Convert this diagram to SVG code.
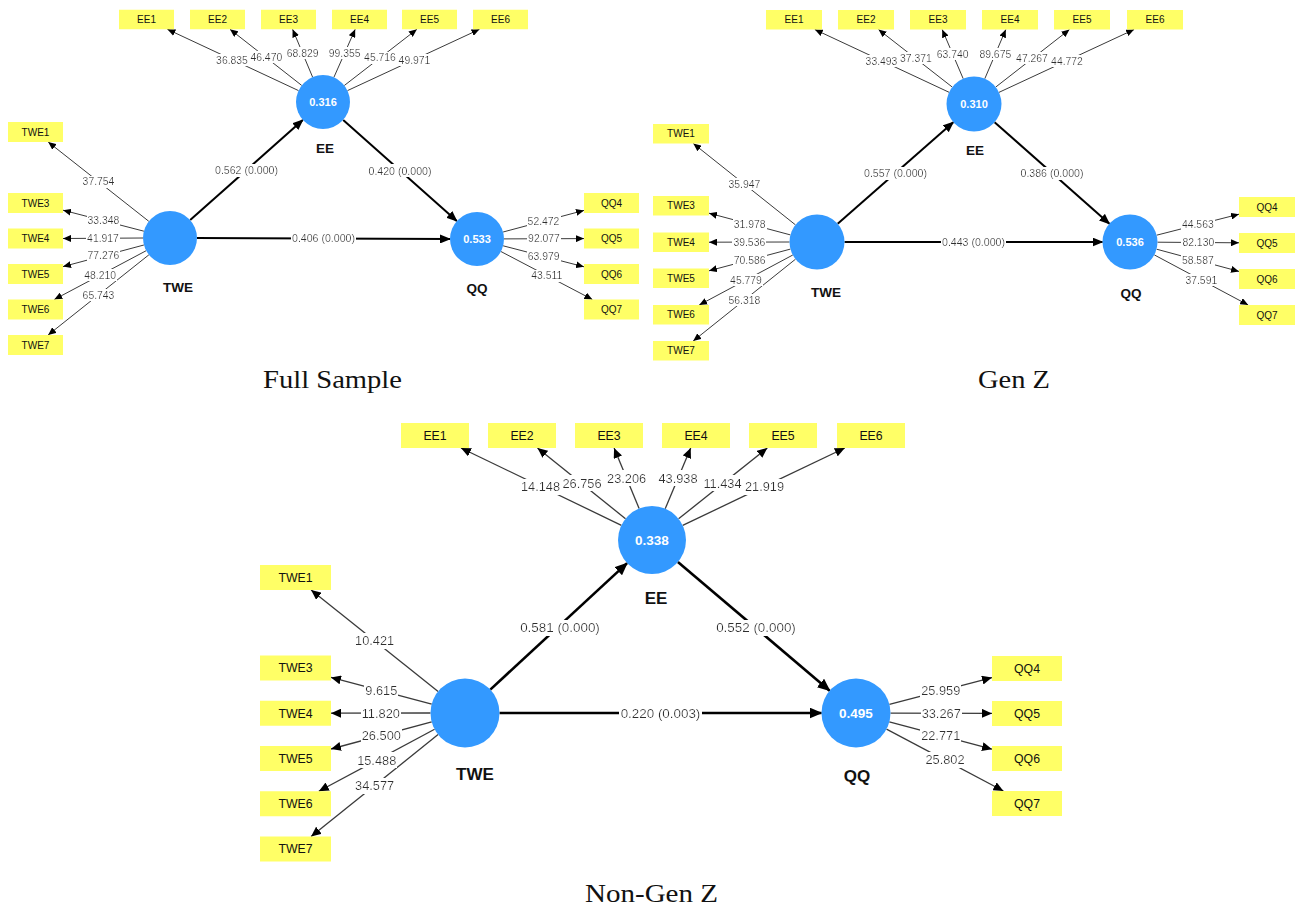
<svg xmlns="http://www.w3.org/2000/svg" width="1299" height="910" viewBox="0 0 1299 910">
<style>
.lv{fill:#3399FF}
.ind{fill:#FFFF66}
.o1{stroke:#3a3a3a;stroke-width:1;fill:none;marker-end:url(#a1)}
.p1{stroke:#000;stroke-width:2;fill:none;marker-end:url(#a2)}
.o2{stroke:#3a3a3a;stroke-width:1.3;fill:none;marker-end:url(#a3)}
.p2{stroke:#000;stroke-width:2.6;fill:none;marker-end:url(#a4)}
text{font-family:"Liberation Sans",Arial,sans-serif;text-anchor:middle}
.t1{font-size:10.4px;fill:#2e2e2e;filter:url(#bg)}
.t2{font-size:12.8px;fill:#2e2e2e;filter:url(#bg)}
.pt1{font-size:10.6px;fill:#2e2e2e;filter:url(#bg)}
.pt2{font-size:13.4px;fill:#2e2e2e;filter:url(#bg)}
.bx1{font-size:10px;fill:#111}
.bx2{font-size:12.3px;fill:#111}
.v1{font-size:11px;font-weight:bold;fill:#fff}
.v2{font-size:13.5px;font-weight:bold;fill:#fff}
.n1{font-size:13.5px;font-weight:bold;fill:#111}
.n2{font-size:17px;font-weight:bold;fill:#111}
.title{font-family:"Liberation Serif","Times New Roman",serif;font-size:25px;fill:#111}
</style>
<defs>
<filter id="bg" x="-0.015" y="0" width="1.03" height="1">
<feFlood flood-color="#ffffff"/>
<feComposite in="SourceGraphic"/>
</filter>
<marker id="a1" viewBox="0 0 8 7" refX="8" refY="3.5" markerWidth="8" markerHeight="7" markerUnits="userSpaceOnUse" orient="auto"><path d="M0,0 L8,3.5 L0,7 z" fill="#000"/></marker>
<marker id="a2" viewBox="0 0 11 9" refX="10" refY="4.5" markerWidth="11" markerHeight="9" markerUnits="userSpaceOnUse" orient="auto"><path d="M0,0 L11,4.5 L0,9 z" fill="#000"/></marker>
<marker id="a3" viewBox="0 0 10 9" refX="10" refY="4.5" markerWidth="10" markerHeight="9" markerUnits="userSpaceOnUse" orient="auto"><path d="M0,0 L10,4.5 L0,9 z" fill="#000"/></marker>
<marker id="a4" viewBox="0 0 13 11" refX="12" refY="5.5" markerWidth="13" markerHeight="11" markerUnits="userSpaceOnUse" orient="auto"><path d="M0,0 L13,5.5 L0,11 z" fill="#000"/></marker>
</defs>
<rect width="1299" height="910" fill="#fff"/>

<!-- ================= Full Sample ================= -->
<g id="fs-connectors">
<line class="o1" x1="298.5" y1="90.6" x2="167.4" y2="29.3"/>
<line class="o1" x1="301.7" y1="85.4" x2="230" y2="29.3"/>
<line class="o1" x1="312.6" y1="77.1" x2="292.6" y2="29.3"/>
<line class="o1" x1="333.9" y1="77.3" x2="355.2" y2="29.3"/>
<line class="o1" x1="344.3" y1="85.5" x2="416.9" y2="29.3"/>
<line class="o1" x1="347.5" y1="90.6" x2="479.5" y2="29.3"/>
<line class="o1" x1="148.8" y1="221.3" x2="48.2" y2="142"/>
<line class="o1" x1="143.9" y1="231.2" x2="63" y2="210.2"/>
<line class="o1" x1="143" y1="238" x2="63" y2="238.5"/>
<line class="o1" x1="143.9" y1="245" x2="63" y2="266.6"/>
<line class="o1" x1="146.2" y1="250.7" x2="54.3" y2="299.5"/>
<line class="o1" x1="148.9" y1="254.8" x2="48.1" y2="335"/>
<line class="o1" x1="503.1" y1="232" x2="584" y2="210.4"/>
<line class="o1" x1="504" y1="238.9" x2="584" y2="238.6"/>
<line class="o1" x1="503.1" y1="245.8" x2="584" y2="266.8"/>
<line class="o1" x1="500.9" y1="251.5" x2="592.4" y2="299.5"/>
<line class="p1" x1="190.2" y1="220.1" x2="302.8" y2="119.9"/>
<line class="p1" x1="197" y1="238" x2="450" y2="239"/>
<line class="p1" x1="343.2" y1="119.9" x2="456.8" y2="221.1"/>
<text class="t1" x="232" y="60" dy=".35em">36.835</text>
<text class="t1" x="266.3" y="57.3" dy=".35em">46.470</text>
<text class="t1" x="302.6" y="53.2" dy=".35em">68.829</text>
<text class="t1" x="344.6" y="53.3" dy=".35em">99.355</text>
<text class="t1" x="380" y="57.4" dy=".35em">45.716</text>
<text class="t1" x="414.5" y="59.9" dy=".35em">49.971</text>
<text class="t1" x="98.5" y="181.7" dy=".35em">37.754</text>
<text class="t1" x="103.4" y="220.7" dy=".35em">33.348</text>
<text class="t1" x="103" y="238.2" dy=".35em">41.917</text>
<text class="t1" x="103.4" y="255.8" dy=".35em">77.276</text>
<text class="t1" x="100.2" y="275.1" dy=".35em">48.210</text>
<text class="t1" x="98.5" y="294.9" dy=".35em">65.743</text>
<text class="t1" x="543.5" y="221.2" dy=".35em">52.472</text>
<text class="t1" x="544" y="238.8" dy=".35em">92.077</text>
<text class="t1" x="543.6" y="256.3" dy=".35em">63.979</text>
<text class="t1" x="546.7" y="275.5" dy=".35em">43.511</text>
<text class="pt1" x="246.5" y="170.5" dy=".35em">0.562 (0.000)</text>
<text class="pt1" x="323.5" y="238.5" dy=".35em">0.406 (0.000)</text>
<text class="pt1" x="400" y="171" dy=".35em">0.420 (0.000)</text>
</g>
<g id="fs-EE"><circle class="lv" cx="323" cy="102" r="27"/><text class="v1" x="323" y="102" dy=".36em">0.316</text><text class="n1" x="325" y="148" dy=".36em">EE</text></g>
<g id="fs-TWE"><circle class="lv" cx="170" cy="238" r="27"/><text class="n1" x="178" y="287" dy=".36em">TWE</text></g>
<g id="fs-QQ"><circle class="lv" cx="477" cy="239" r="27"/><text class="v1" x="477" y="239" dy=".36em">0.533</text><text class="n1" x="477" y="288" dy=".36em">QQ</text></g>
<g id="fs-EE1"><rect class="ind" x="119" y="9.75" width="55" height="19.5"/><text class="bx1" x="146.5" y="19.5" dy=".35em">EE1</text></g>
<g id="fs-EE2"><rect class="ind" x="190" y="9.75" width="55" height="19.5"/><text class="bx1" x="217.5" y="19.5" dy=".35em">EE2</text></g>
<g id="fs-EE3"><rect class="ind" x="261" y="9.75" width="55" height="19.5"/><text class="bx1" x="288.5" y="19.5" dy=".35em">EE3</text></g>
<g id="fs-EE4"><rect class="ind" x="332" y="9.75" width="55" height="19.5"/><text class="bx1" x="359.5" y="19.5" dy=".35em">EE4</text></g>
<g id="fs-EE5"><rect class="ind" x="402" y="9.75" width="55" height="19.5"/><text class="bx1" x="429.5" y="19.5" dy=".35em">EE5</text></g>
<g id="fs-EE6"><rect class="ind" x="473" y="9.75" width="55" height="19.5"/><text class="bx1" x="500.5" y="19.5" dy=".35em">EE6</text></g>
<g id="fs-TWE1"><rect class="ind" x="8" y="122" width="55" height="20"/><text class="bx1" x="35.5" y="132" dy=".35em">TWE1</text></g>
<g id="fs-TWE3"><rect class="ind" x="8" y="193" width="55" height="20"/><text class="bx1" x="35.5" y="203" dy=".35em">TWE3</text></g>
<g id="fs-TWE4"><rect class="ind" x="8" y="228.5" width="55" height="20"/><text class="bx1" x="35.5" y="238.5" dy=".35em">TWE4</text></g>
<g id="fs-TWE5"><rect class="ind" x="8" y="264" width="55" height="20"/><text class="bx1" x="35.5" y="274" dy=".35em">TWE5</text></g>
<g id="fs-TWE6"><rect class="ind" x="8" y="299.5" width="55" height="20"/><text class="bx1" x="35.5" y="309.5" dy=".35em">TWE6</text></g>
<g id="fs-TWE7"><rect class="ind" x="8" y="335" width="55" height="20"/><text class="bx1" x="35.5" y="345" dy=".35em">TWE7</text></g>
<g id="fs-QQ4"><rect class="ind" x="584" y="193" width="55" height="20"/><text class="bx1" x="611.5" y="203" dy=".35em">QQ4</text></g>
<g id="fs-QQ5"><rect class="ind" x="584" y="228.5" width="55" height="20"/><text class="bx1" x="611.5" y="238.5" dy=".35em">QQ5</text></g>
<g id="fs-QQ6"><rect class="ind" x="584" y="264" width="55" height="20"/><text class="bx1" x="611.5" y="274" dy=".35em">QQ6</text></g>
<g id="fs-QQ7"><rect class="ind" x="584" y="299.5" width="55" height="20"/><text class="bx1" x="611.5" y="309.5" dy=".35em">QQ7</text></g>
<text class="title" x="332.5" y="388" textLength="139" lengthAdjust="spacingAndGlyphs">Full Sample</text>

<!-- ================= Gen Z ================= -->
<g id="gz-connectors">
<line class="o1" x1="949.1" y1="92.3" x2="814.8" y2="29.5"/>
<line class="o1" x1="952.3" y1="87.1" x2="878.5" y2="29.5"/>
<line class="o1" x1="963.2" y1="78.7" x2="942.2" y2="29.5"/>
<line class="o1" x1="984.8" y1="78.7" x2="1005.8" y2="29.5"/>
<line class="o1" x1="995.7" y1="87.1" x2="1069.5" y2="29.5"/>
<line class="o1" x1="998.9" y1="92.4" x2="1134.1" y2="29.5"/>
<line class="o1" x1="795.5" y1="224.9" x2="693.3" y2="143.5"/>
<line class="o1" x1="790.4" y1="234.9" x2="709" y2="213.2"/>
<line class="o1" x1="789.5" y1="242" x2="709" y2="242.2"/>
<line class="o1" x1="790.4" y1="249.1" x2="709" y2="270.8"/>
<line class="o1" x1="792.8" y1="255" x2="699.2" y2="305"/>
<line class="o1" x1="795.5" y1="259.2" x2="693.2" y2="341"/>
<line class="o1" x1="1156.6" y1="235.2" x2="1239" y2="214.2"/>
<line class="o1" x1="1157.5" y1="242.2" x2="1239" y2="242.8"/>
<line class="o1" x1="1156.6" y1="249.2" x2="1239" y2="271.4"/>
<line class="o1" x1="1154.3" y1="254.9" x2="1248.2" y2="305"/>
<line class="p1" x1="837.7" y1="223.8" x2="953.3" y2="122.2"/>
<line class="p1" x1="844.5" y1="242" x2="1102.5" y2="242"/>
<line class="p1" x1="994.6" y1="122.2" x2="1109.4" y2="223.8"/>
<text class="t1" x="881.5" y="60.9" dy=".35em">33.493</text>
<text class="t1" x="915.9" y="58.3" dy=".35em">37.371</text>
<text class="t1" x="952.7" y="54.1" dy=".35em">63.740</text>
<text class="t1" x="995.3" y="54.1" dy=".35em">89.675</text>
<text class="t1" x="1032" y="58.3" dy=".35em">47.267</text>
<text class="t1" x="1067" y="61" dy=".35em">44.772</text>
<text class="t1" x="744.4" y="184.2" dy=".35em">35.947</text>
<text class="t1" x="749.7" y="224.1" dy=".35em">31.978</text>
<text class="t1" x="749.3" y="242.1" dy=".35em">39.536</text>
<text class="t1" x="749.7" y="260" dy=".35em">70.586</text>
<text class="t1" x="746" y="280" dy=".35em">45.779</text>
<text class="t1" x="744.4" y="300.1" dy=".35em">56.318</text>
<text class="t1" x="1197.8" y="224.7" dy=".35em">44.563</text>
<text class="t1" x="1198.3" y="242.5" dy=".35em">82.130</text>
<text class="t1" x="1197.8" y="260.3" dy=".35em">58.587</text>
<text class="t1" x="1201.3" y="280" dy=".35em">37.591</text>
<text class="pt1" x="895.5" y="173.5" dy=".35em">0.557 (0.000)</text>
<text class="pt1" x="973.5" y="242" dy=".35em">0.443 (0.000)</text>
<text class="pt1" x="1052" y="173.5" dy=".35em">0.386 (0.000)</text>
</g>
<g id="gz-EE"><circle class="lv" cx="974" cy="104" r="27.5"/><text class="v1" x="974" y="104" dy=".36em">0.310</text><text class="n1" x="975" y="150" dy=".36em">EE</text></g>
<g id="gz-TWE"><circle class="lv" cx="817" cy="242" r="27.5"/><text class="n1" x="826" y="292" dy=".36em">TWE</text></g>
<g id="gz-QQ"><circle class="lv" cx="1130" cy="242" r="27.5"/><text class="v1" x="1130" y="242" dy=".36em">0.536</text><text class="n1" x="1131" y="293" dy=".36em">QQ</text></g>
<g id="gz-EE1"><rect class="ind" x="766" y="10" width="56" height="19.5"/><text class="bx1" x="794" y="19.75" dy=".35em">EE1</text></g>
<g id="gz-EE2"><rect class="ind" x="838" y="10" width="56" height="19.5"/><text class="bx1" x="866" y="19.75" dy=".35em">EE2</text></g>
<g id="gz-EE3"><rect class="ind" x="910" y="10" width="56" height="19.5"/><text class="bx1" x="938" y="19.75" dy=".35em">EE3</text></g>
<g id="gz-EE4"><rect class="ind" x="982" y="10" width="56" height="19.5"/><text class="bx1" x="1010" y="19.75" dy=".35em">EE4</text></g>
<g id="gz-EE5"><rect class="ind" x="1054" y="10" width="56" height="19.5"/><text class="bx1" x="1082" y="19.75" dy=".35em">EE5</text></g>
<g id="gz-EE6"><rect class="ind" x="1127" y="10" width="56" height="19.5"/><text class="bx1" x="1155" y="19.75" dy=".35em">EE6</text></g>
<g id="gz-TWE1"><rect class="ind" x="653" y="124" width="56" height="19.5"/><text class="bx1" x="681" y="133.75" dy=".35em">TWE1</text></g>
<g id="gz-TWE3"><rect class="ind" x="653" y="196" width="56" height="19.5"/><text class="bx1" x="681" y="205.75" dy=".35em">TWE3</text></g>
<g id="gz-TWE4"><rect class="ind" x="653" y="232.5" width="56" height="19.5"/><text class="bx1" x="681" y="242.25" dy=".35em">TWE4</text></g>
<g id="gz-TWE5"><rect class="ind" x="653" y="268.5" width="56" height="19.5"/><text class="bx1" x="681" y="278.25" dy=".35em">TWE5</text></g>
<g id="gz-TWE6"><rect class="ind" x="653" y="305" width="56" height="19.5"/><text class="bx1" x="681" y="314.75" dy=".35em">TWE6</text></g>
<g id="gz-TWE7"><rect class="ind" x="653" y="341" width="56" height="19.5"/><text class="bx1" x="681" y="350.75" dy=".35em">TWE7</text></g>
<g id="gz-QQ4"><rect class="ind" x="1239" y="197" width="56" height="20"/><text class="bx1" x="1267" y="207" dy=".35em">QQ4</text></g>
<g id="gz-QQ5"><rect class="ind" x="1239" y="233" width="56" height="20"/><text class="bx1" x="1267" y="243" dy=".35em">QQ5</text></g>
<g id="gz-QQ6"><rect class="ind" x="1239" y="269" width="56" height="20"/><text class="bx1" x="1267" y="279" dy=".35em">QQ6</text></g>
<g id="gz-QQ7"><rect class="ind" x="1239" y="305" width="56" height="20"/><text class="bx1" x="1267" y="315" dy=".35em">QQ7</text></g>
<text class="title" x="1014" y="388" textLength="72" lengthAdjust="spacingAndGlyphs">Gen Z</text>

<!-- ================= Non-Gen Z ================= -->
<g id="ng-connectors">
<line class="o2" x1="621.4" y1="525.3" x2="461" y2="448"/>
<line class="o2" x1="625.5" y1="518.7" x2="537.5" y2="448"/>
<line class="o2" x1="639.1" y1="508.6" x2="614.1" y2="448"/>
<line class="o2" x1="665.2" y1="508.7" x2="690.7" y2="448"/>
<line class="o2" x1="678.6" y1="518.8" x2="767.3" y2="448"/>
<line class="o2" x1="682.7" y1="525.4" x2="844.8" y2="448"/>
<line class="o2" x1="438.1" y1="691.5" x2="311.1" y2="590"/>
<line class="o2" x1="431.7" y1="704.1" x2="331" y2="677.4"/>
<line class="o2" x1="430.5" y1="713" x2="331" y2="713.2"/>
<line class="o2" x1="431.7" y1="721.9" x2="331" y2="749"/>
<line class="o2" x1="434.6" y1="729.3" x2="318.8" y2="791.25"/>
<line class="o2" x1="438.1" y1="734.6" x2="311.1" y2="836.5"/>
<line class="o2" x1="889.4" y1="704.3" x2="992" y2="677.6"/>
<line class="o2" x1="890.5" y1="713.1" x2="992" y2="713.4"/>
<line class="o2" x1="889.3" y1="721.9" x2="992" y2="749.2"/>
<line class="o2" x1="886.5" y1="729.1" x2="1003.4" y2="791"/>
<line class="p2" x1="490.3" y1="689.6" x2="627.1" y2="563.1"/>
<line class="p2" x1="499.5" y1="713" x2="821.5" y2="713"/>
<line class="p2" x1="677.9" y1="562" x2="829.7" y2="690.7"/>
<text class="t2" x="540.5" y="486.7" dy=".35em">14.148</text>
<text class="t2" x="582" y="483.4" dy=".35em">26.756</text>
<text class="t2" x="626.6" y="478.3" dy=".35em">23.206</text>
<text class="t2" x="678" y="478.4" dy=".35em">43.938</text>
<text class="t2" x="722.5" y="483.4" dy=".35em">11.434</text>
<text class="t2" x="764.5" y="486.7" dy=".35em">21.919</text>
<text class="t2" x="374.6" y="640.8" dy=".35em">10.421</text>
<text class="t2" x="381.3" y="690.8" dy=".35em">9.615</text>
<text class="t2" x="380.8" y="713.1" dy=".35em">11.820</text>
<text class="t2" x="381.3" y="735.4" dy=".35em">26.500</text>
<text class="t2" x="376.7" y="760.3" dy=".35em">15.488</text>
<text class="t2" x="374.6" y="785.6" dy=".35em">34.577</text>
<text class="t2" x="940.7" y="691" dy=".35em">25.959</text>
<text class="t2" x="941.2" y="713.3" dy=".35em">33.267</text>
<text class="t2" x="940.7" y="735.6" dy=".35em">22.771</text>
<text class="t2" x="945" y="760" dy=".35em">25.802</text>
<text class="pt2" x="560" y="627.5" dy=".35em">0.581 (0.000)</text>
<text class="pt2" x="660.5" y="713" dy=".35em">0.220 (0.003)</text>
<text class="pt2" x="756" y="627.5" dy=".35em">0.552 (0.000)</text>
</g>
<g id="ng-EE"><circle class="lv" cx="652" cy="540" r="34"/><text class="v2" x="652" y="540" dy=".36em">0.338</text><text class="n2" x="656" y="598" dy=".36em">EE</text></g>
<g id="ng-TWE"><circle class="lv" cx="465" cy="713" r="34.5"/><text class="n2" x="475" y="774" dy=".36em">TWE</text></g>
<g id="ng-QQ"><circle class="lv" cx="856" cy="713" r="34.5"/><text class="v2" x="856" y="713" dy=".36em">0.495</text><text class="n2" x="857" y="776" dy=".36em">QQ</text></g>
<g id="ng-EE1"><rect class="ind" x="401" y="423" width="68" height="25"/><text class="bx2" x="435" y="435.5" dy=".35em">EE1</text></g>
<g id="ng-EE2"><rect class="ind" x="488" y="423" width="68" height="25"/><text class="bx2" x="522" y="435.5" dy=".35em">EE2</text></g>
<g id="ng-EE3"><rect class="ind" x="575" y="423" width="68" height="25"/><text class="bx2" x="609" y="435.5" dy=".35em">EE3</text></g>
<g id="ng-EE4"><rect class="ind" x="662" y="423" width="68" height="25"/><text class="bx2" x="696" y="435.5" dy=".35em">EE4</text></g>
<g id="ng-EE5"><rect class="ind" x="749" y="423" width="68" height="25"/><text class="bx2" x="783" y="435.5" dy=".35em">EE5</text></g>
<g id="ng-EE6"><rect class="ind" x="837" y="423" width="68" height="25"/><text class="bx2" x="871" y="435.5" dy=".35em">EE6</text></g>
<g id="ng-TWE1"><rect class="ind" x="260" y="565" width="71" height="25"/><text class="bx2" x="295.5" y="577.5" dy=".35em">TWE1</text></g>
<g id="ng-TWE3"><rect class="ind" x="260" y="655.5" width="71" height="25"/><text class="bx2" x="295.5" y="668" dy=".35em">TWE3</text></g>
<g id="ng-TWE4"><rect class="ind" x="260" y="700.75" width="71" height="25"/><text class="bx2" x="295.5" y="713.25" dy=".35em">TWE4</text></g>
<g id="ng-TWE5"><rect class="ind" x="260" y="746" width="71" height="25"/><text class="bx2" x="295.5" y="758.5" dy=".35em">TWE5</text></g>
<g id="ng-TWE6"><rect class="ind" x="260" y="791.25" width="71" height="25"/><text class="bx2" x="295.5" y="803.75" dy=".35em">TWE6</text></g>
<g id="ng-TWE7"><rect class="ind" x="260" y="836.5" width="71" height="25"/><text class="bx2" x="295.5" y="849" dy=".35em">TWE7</text></g>
<g id="ng-QQ4"><rect class="ind" x="992" y="656" width="70" height="25"/><text class="bx2" x="1027" y="668.5" dy=".35em">QQ4</text></g>
<g id="ng-QQ5"><rect class="ind" x="992" y="701" width="70" height="25"/><text class="bx2" x="1027" y="713.5" dy=".35em">QQ5</text></g>
<g id="ng-QQ6"><rect class="ind" x="992" y="746" width="70" height="25"/><text class="bx2" x="1027" y="758.5" dy=".35em">QQ6</text></g>
<g id="ng-QQ7"><rect class="ind" x="992" y="791" width="70" height="25"/><text class="bx2" x="1027" y="803.5" dy=".35em">QQ7</text></g>
<text class="title" x="651.5" y="902" textLength="133" lengthAdjust="spacingAndGlyphs">Non-Gen Z</text>
</svg>
